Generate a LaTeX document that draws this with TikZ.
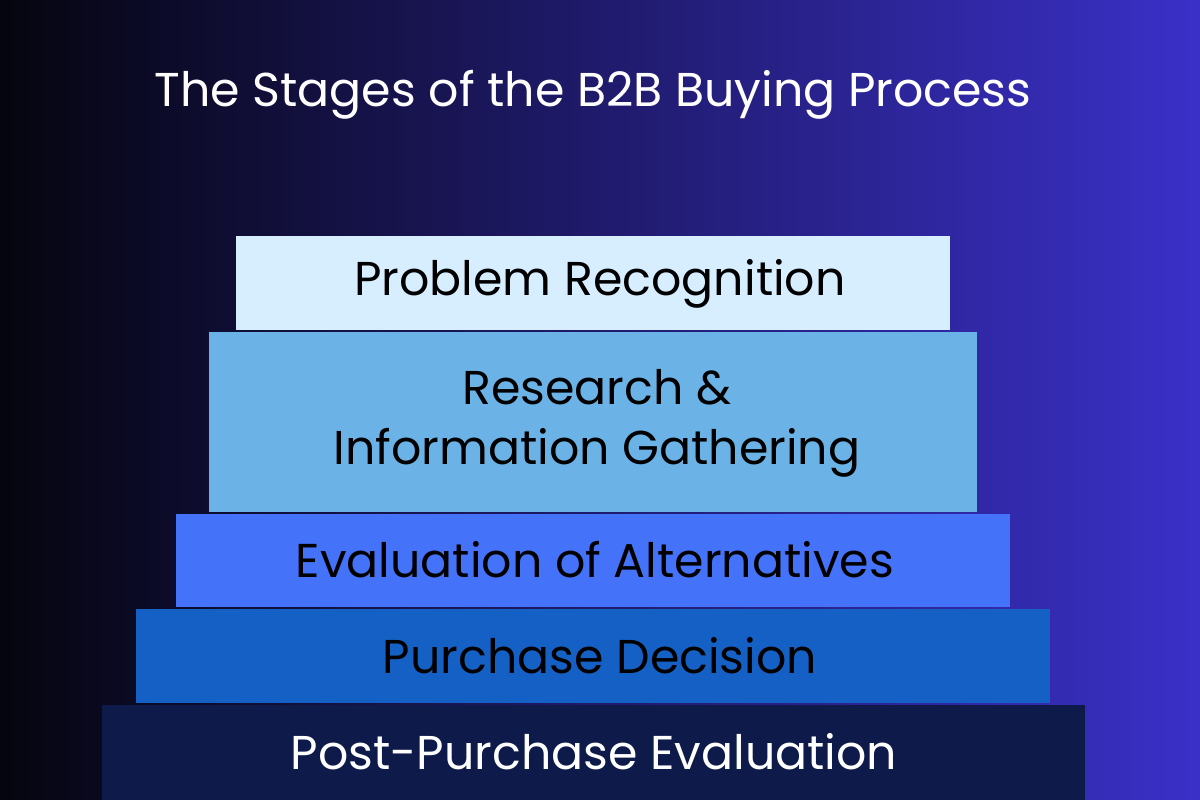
\documentclass[tikz,border=0pt]{standalone}
\usepackage{fontspec}
\setmainfont{Poppins}
\definecolor{bgr}{RGB}{58,48,200}
\definecolor{bgl}{RGB}{5,5,15}
\definecolor{c1}{RGB}{214,238,255}
\definecolor{c2}{RGB}{107,179,230}
\definecolor{c3}{RGB}{68,114,248}
\definecolor{c4}{RGB}{21,96,196}
\definecolor{c5}{RGB}{13,26,74}
\begin{document}
\begin{tikzpicture}[x=0.02cm,y=-0.02cm,
  stage/.style={draw=none,inner sep=0pt,font=\fontsize{27}{34}\selectfont,text=black,align=center}]
\useasboundingbox (0,0) rectangle (1200,800);
\shade[left color=bgl, right color=bgr] (0,0) rectangle (1200,800);
\node[text=white,font=\fontsize{27}{32}\selectfont] (title) at (593,95) {The Stages of the B2B Buying Process};
\fill[c1] (236,236) rectangle (950,330);
\node[stage] (s1) at (600,284) {Problem Recognition};
\fill[c2] (209,332) rectangle (977,512);
\node[stage] (s2) at (597,423) {Research \&\\Information Gathering};
\fill[c3] (176,514) rectangle (1010,607);
\node[stage] (s3) at (595,560) {Evaluation of Alternatives};
\fill[c4] (136,609) rectangle (1050,703);
\node[stage] (s4) at (600,656) {Purchase Decision};
\fill[c5] (102,705) rectangle (1085,800);
\node[stage,text=white] (s5) at (594,752) {Post-Purchase Evaluation};
\end{tikzpicture}
\end{document}
